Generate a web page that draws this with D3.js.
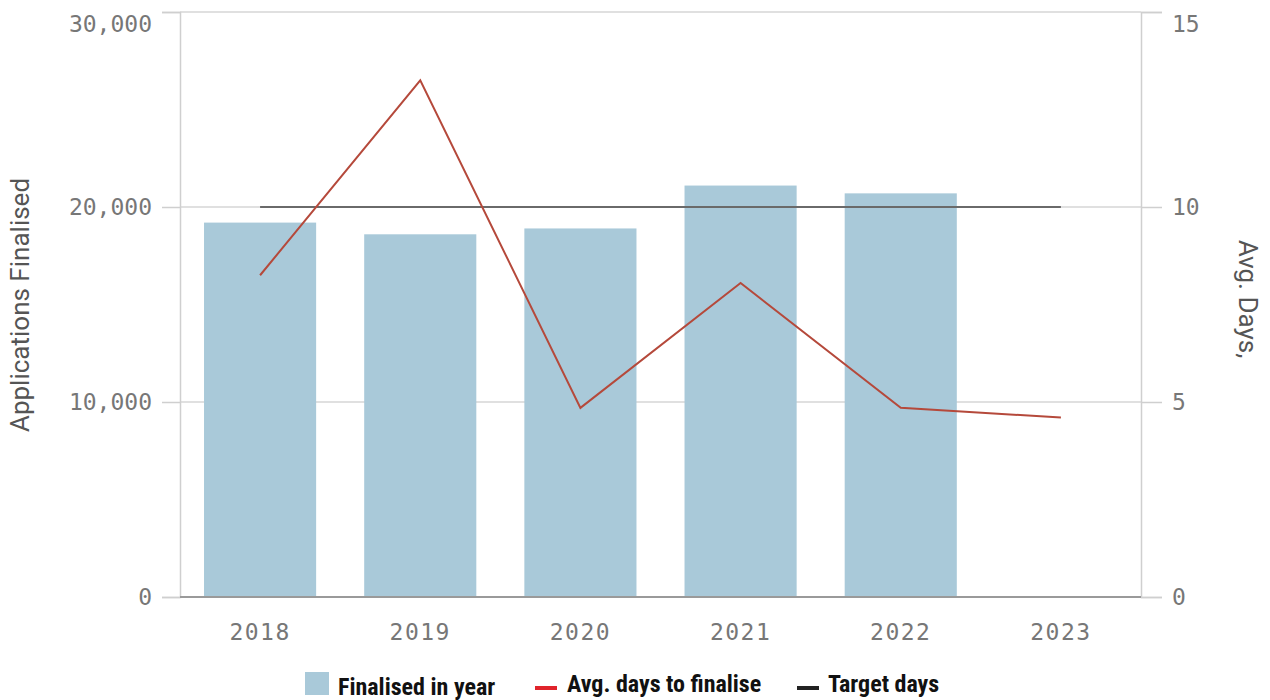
<!DOCTYPE html>
<html>
<head>
<meta charset="utf-8">
<script src="https://cdn.jsdelivr.net/npm/d3@7"></script>
<style>
  body { margin: 0; background: #fff; }
</style>
</head>
<body>
<div id="chart"></div>
<script>
// chart values
var years = ["2018", "2019", "2020", "2021", "2022", "2023"]
var finalised = [19200, 18600, 18900, 21100, 20700, null]
var avgDays = [8.25, 13.25, 4.85, 8.05, 4.85, 4.6]
var targetDays = [10, 10, 10, 10, 10, 10]
var leftTicks = [0, 10000, 20000, 30000]
var rightTicks = [0, 5, 10, 15]

var width = 1270
var height = 700
var plotLeft = 180, plotRight = 1141, plotTop = 12, plotBottom = 597

var svg = d3.select("#chart")
    .append("svg")
    .attr("width", width)
    .attr("height", height)

var xScale = d3.scaleBand().domain(years).range([plotLeft, plotRight])
    .paddingInner(0.3).paddingOuter(0.15)
var yLeft = d3.scaleLinear().domain([0, 30000]).range([plotBottom, plotTop])
var yRight = d3.scaleLinear().domain([0, 15]).range([plotBottom, plotTop])

var tickFont = "'DejaVu Sans Mono', monospace"
var tickSize = 23

// grid lines
svg.append("g")
    .selectAll("line")
    .data(leftTicks.filter(function (d) { return d > 0 }))
    .enter()
    .append("line")
    .attr("x1", plotLeft)
    .attr("x2", plotRight)
    .attr("y1", function (d) { return yLeft(d) })
    .attr("y2", function (d) { return yLeft(d) })
    .attr("stroke", "#d6d6d6")
    .attr("stroke-width", 1.5)

// left axis
var axL = svg.append("g")
    .attr("transform", "translate(" + plotLeft + ",0)")
    .call(d3.axisLeft(yLeft).tickValues(leftTicks).tickSize(18).tickPadding(10)
        .tickFormat(d3.format(",")))
axL.select(".domain").attr("stroke", "#cfcfcf").attr("stroke-width", 1.5)
axL.selectAll(".tick line").attr("stroke", "#cfcfcf").attr("stroke-width", 1.5)
axL.selectAll(".tick text")
    .attr("font-family", tickFont).attr("font-size", tickSize).attr("fill", "#777")
    .attr("dy", function (d) { return d === 30000 ? "0.85em" : "0.32em" })

// right axis
var axR = svg.append("g")
    .attr("transform", "translate(" + plotRight + ",0)")
    .call(d3.axisRight(yRight).tickValues(rightTicks).tickSize(21).tickPadding(10))
axR.select(".domain").attr("stroke", "#cfcfcf").attr("stroke-width", 1.5)
axR.selectAll(".tick line").attr("stroke", "#cfcfcf").attr("stroke-width", 1.5)
axR.selectAll(".tick text")
    .attr("font-family", tickFont).attr("font-size", tickSize).attr("fill", "#777")
    .attr("dy", function (d) { return d === 15 ? "0.85em" : "0.32em" })

// bars
svg.selectAll(".bar")
    .data(years.map(function (y, i) { return { year: y, value: finalised[i] } })
        .filter(function (d) { return d.value != null }))
    .enter()
    .append("rect")
    .attr("class", "bar")
    .attr("x", function (d) { return xScale(d.year) })
    .attr("width", xScale.bandwidth())
    .attr("y", function (d) { return yLeft(d.value) })
    .attr("height", function (d) { return plotBottom - yLeft(d.value) })
    .attr("fill", "#a9c9d9")

// baseline
svg.append("line")
    .attr("x1", plotLeft).attr("x2", plotRight)
    .attr("y1", plotBottom).attr("y2", plotBottom)
    .attr("stroke", "#9a9a9a").attr("stroke-width", 2)

// x axis labels
var axX = svg.append("g")
    .attr("transform", "translate(0," + plotBottom + ")")
    .call(d3.axisBottom(xScale).tickSize(0).tickPadding(27))
axX.select(".domain").remove()
axX.selectAll(".tick text")
    .attr("font-family", tickFont).attr("font-size", tickSize).attr("fill", "#777")
    .attr("letter-spacing", 1.5)

var cx = function (i) { return xScale(years[i]) + xScale.bandwidth() / 2 }

// target line
svg.append("path")
    .datum(targetDays)
    .attr("fill", "none")
    .attr("stroke", "#6a6a6a")
    .attr("stroke-width", 2)
    .attr("d", d3.line()
        .x(function (d, i) { return cx(i) })
        .y(function (d) { return yRight(d) }))

// avg days line
svg.append("path")
    .datum(avgDays)
    .attr("fill", "none")
    .attr("stroke", "#b5493b")
    .attr("stroke-width", 2)
    .attr("d", d3.line()
        .x(function (d, i) { return cx(i) })
        .y(function (d) { return yRight(d) }))

// axis titles
svg.append("text")
    .attr("transform", "translate(29," + 305 + ") rotate(-90)")
    .attr("text-anchor", "middle")
    .attr("font-family", "Roboto, sans-serif")
    .attr("font-size", 26)
    .attr("fill", "#555")
    .text("Applications Finalised")

svg.append("text")
    .attr("transform", "translate(1239," + 299 + ") rotate(90)")
    .attr("text-anchor", "middle")
    .attr("font-family", "Roboto, sans-serif")
    .attr("font-size", 26)
    .attr("fill", "#555")
    .text("Avg. Days,")

// legend
var legendFont = "'Liberation Sans Narrow', 'Roboto Condensed', sans-serif"
var legendSize = 24
var legend = svg.append("g").attr("id", "legend")

legend.append("rect")
    .attr("x", 305).attr("y", 672).attr("width", 24).attr("height", 23)
    .attr("fill", "#a9c9d9")
legend.append("text")
    .attr("x", 338).attr("y", 695)
    .attr("font-family", legendFont).attr("font-weight", "bold")
    .attr("font-size", legendSize).attr("fill", "#111")
    .text("Finalised in year")

legend.append("rect")
    .attr("x", 535).attr("y", 686).attr("width", 22).attr("height", 4)
    .attr("fill", "#e0242b")
legend.append("text")
    .attr("x", 567).attr("y", 692)
    .attr("font-family", legendFont).attr("font-weight", "bold")
    .attr("font-size", legendSize).attr("fill", "#111")
    .text("Avg. days to finalise")

legend.append("rect")
    .attr("x", 797).attr("y", 686).attr("width", 22).attr("height", 4)
    .attr("fill", "#222")
legend.append("text")
    .attr("x", 828).attr("y", 692)
    .attr("font-family", legendFont).attr("font-weight", "bold")
    .attr("font-size", legendSize).attr("fill", "#111")
    .text("Target days")
</script>
</body>
</html>
